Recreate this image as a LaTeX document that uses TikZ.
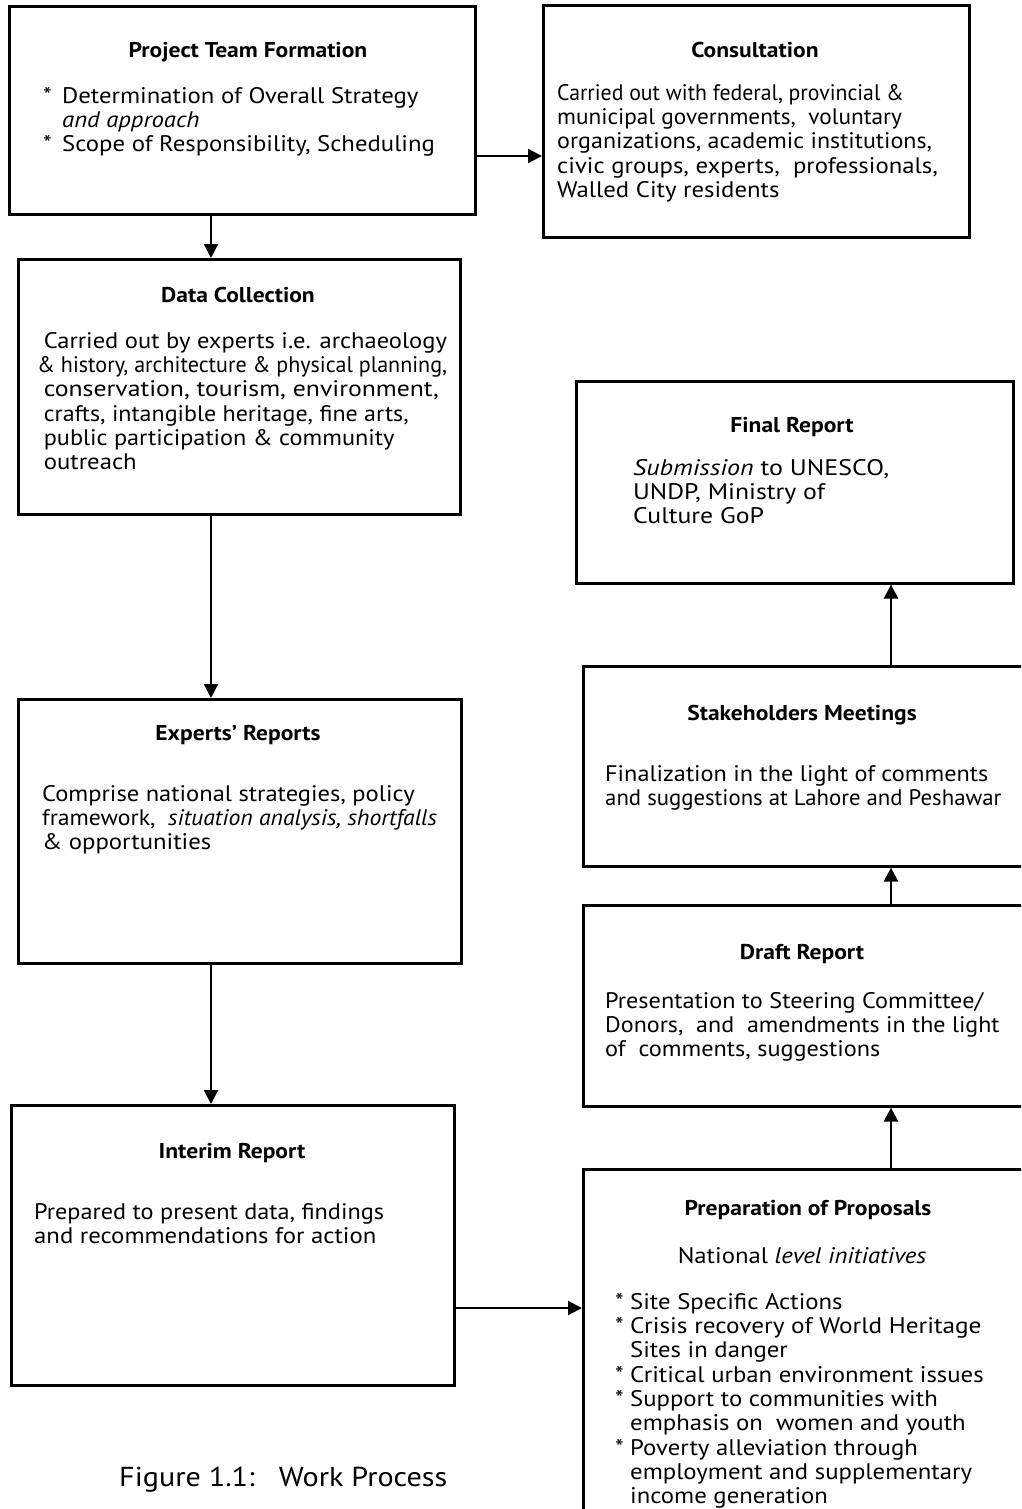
\documentclass[tikz,border=0pt]{standalone}
\usepackage{fontspec}
\setmainfont[FakeStretch=1.1]{PT Sans}
\usetikzlibrary{arrows.meta}

\tikzset{
  box/.style={draw, line width=2.6pt, anchor=north west, inner sep=0pt},
  title/.style={font=\fontsize{21.4}{24.3}\selectfont\bfseries, anchor=center, inner sep=0pt},
  body/.style={font=\fontsize{22.5}{24.3}\selectfont, align=left, anchor=north west, inner sep=0pt},
  arr/.style={line width=2.3pt, -{Triangle[length=14pt,width=14pt]}},
}
\newcommand{\bul}{\makebox[19pt][l]{*}}
\newcommand{\ind}{\hspace*{19pt}}
\newcommand{\pbul}{\makebox[15pt][l]{*}}
\newcommand{\pind}{\hspace*{15pt}}
% horizontal squeeze of a single line
\newcommand{\sx}[2]{\scalebox{#1}[1]{#2}}

\begin{document}
\begin{tikzpicture}[x=1pt, y=-1pt]
\useasboundingbox (0,0) rectangle (1021,1509);
\clip (0,0) rectangle (1021,1509);

% ---- boxes ----
\node[box, minimum width=466pt, minimum height=208pt] (ptf) at (8,5) {};
\node[box, minimum width=426pt, minimum height=232pt] (cons) at (542,4) {};
\node[box, minimum width=442pt, minimum height=255pt] (dc) at (17,258) {};
\node[box, minimum width=443pt, minimum height=264pt] (er) at (17,698) {};
\node[box, minimum width=443pt, minimum height=280pt] (ir) at (10,1104) {};
\node[box, minimum width=437pt, minimum height=202pt] (fr) at (575,380) {};
\node[box, minimum width=442pt, minimum height=200pt] (sm) at (582,665) {};
\node[box, minimum width=442pt, minimum height=201pt] (dr) at (582,904) {};
\node[box, minimum width=442pt, minimum height=350pt] (pp) at (582,1168) {};

% ---- titles ----
\node[title] (ptft) at (248,52) {Project Team Formation};
\node[title] (const) at (755,50) {Consultation};
\node[title] (dct) at (238,295) {Data Collection};
\node[title] (ert) at (238,735) {Experts’ Reports};
\node[title] (irt) at (232,1153) {Interim Report};
\node[title] (frt) at (792,427) {Final Report};
\node[title] (smt) at (802,715) {Stakeholders Meetings};
\node[title] (drt) at (802,954) {Draft Report};
\node[title] (ppt) at (808,1210) {Preparation of Proposals};

% ---- body texts ----
\node[body] (ptfb) at (43,87) {\bul Determination of Overall Strategy\\
  \ind\textit{and approach}\\
  \bul Scope of Responsibility, Scheduling};
\node[body] (consb) at (557,84) {\sx{0.88}{Carried out with federal, provincial \&}\\
  \sx{0.94}{municipal governments,\ \ voluntary}\\
  \sx{0.97}{organizations, academic institutions,}\\
  civic groups, experts,\ \ professionals,\\
  Walled City residents};
\node[body] (dcb) at (37,332) {\ \sx{0.99}{Carried out by experts i.e. archaeology}\\
  \sx{0.89}{\& history, architecture \& physical planning,}\\
  \ \sx{1.04}{conservation, tourism, environment,}\\
  \ \sx{0.97}{crafts, intangible heritage, fine arts,}\\
  \ \sx{0.98}{public participation \& community}\\
  \ outreach};
\node[body] (erb) at (42,785) {\sx{0.99}{Comprise national strategies, policy}\\
  \sx{0.96}{framework,\ \ \textit{situation analysis, shortfalls}}\\
  \& opportunities};
\node[body] (irb) at (34,1203) {\sx{0.98}{Prepared to present data, findings}\\
  and recommendations for action};
\node[body] (frb) at (633,459) {\sx{1.05}{\textit{Submission} to UNESCO,}\\
  \sx{1.04}{UNDP, Ministry of}\\
  \sx{1.04}{Culture GoP}};
\node[body] (smb) at (605,765) {\sx{0.98}{Finalization in the light of comments}\\
  \sx{0.92}{and suggestions at Lahore and Peshawar}};
\node[body] (drb) at (605,992) {\sx{0.98}{Presentation to Steering Committee/}\\
  \sx{0.97}{Donors,\ \ and\ \ amendments in the light}\\
  \sx{0.98}{of\ \ comments, suggestions}};
\node[font=\fontsize{22.5}{24.3}\selectfont, inner sep=0pt] (ppn) at (802,1256) {National \textit{level initiatives}};
\node[body] (ppb) at (615,1293) {\pbul Site Specific Actions\\
  \pbul \sx{1.02}{Crisis recovery of World Heritage}\\
  \pind Sites in danger\\
  \pbul Critical urban environment issues\\
  \pbul Support to communities with\\
  \pind emphasis on\ \ women and youth\\
  \pbul Poverty alleviation through\\
  \pind employment and supplementary\\
  \pind income generation};

% ---- caption ----
\node[font=\fontsize{27.4}{32}\selectfont, anchor=west, inner sep=0pt] (cap) at (119,1480) {Figure 1.1:\ \ \ Work Process};

% ---- connectors ----
\coordinate (lx) at (211,0);
\coordinate (rx) at (891,0);
\coordinate (ty) at (0,156);
\coordinate (by) at (0,1308);
\draw[arr] (ptf.east |- ty) -- (cons.west |- ty);
\draw[arr] (ptf.south -| lx) -- (dc.north -| lx);
\draw[arr] (dc.south -| lx) -- (er.north -| lx);
\draw[arr] (er.south -| lx) -- (ir.north -| lx);
\draw[arr] (ir.east |- by) -- (pp.west |- by);
\draw[arr] (pp.north -| rx) -- (dr.south -| rx);
\draw[arr] (dr.north -| rx) -- (sm.south -| rx);
\draw[arr] (sm.north -| rx) -- (fr.south -| rx);
\end{tikzpicture}
\end{document}
